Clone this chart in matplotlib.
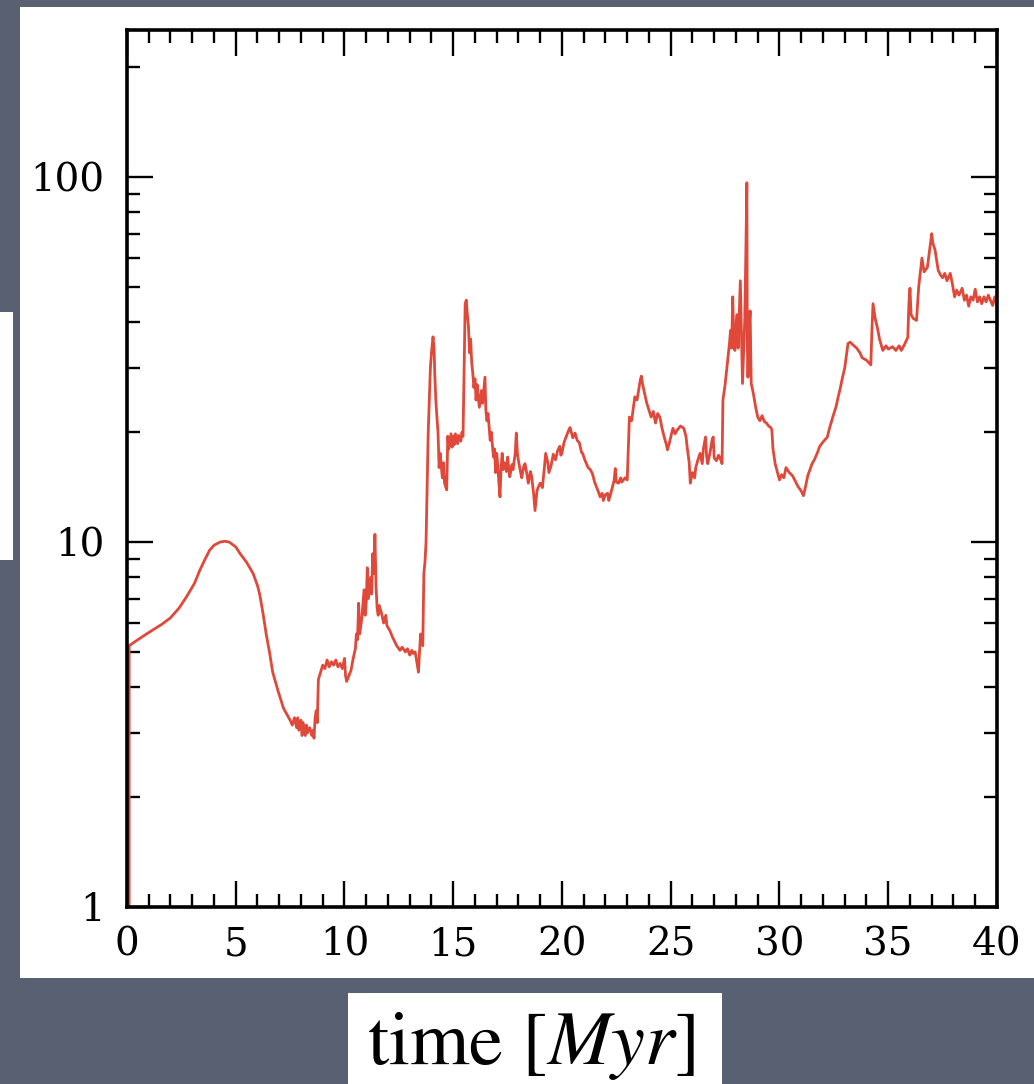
import numpy as np
import matplotlib
matplotlib.use("Agg")
import matplotlib.pyplot as plt
from matplotlib.patches import Rectangle
from matplotlib.ticker import LogLocator, NullFormatter, MultipleLocator

# values, piece by piece (time in Myr, log y)
t_start = [0.1, 0.1, 0.4, 0.8, 1.2, 1.6, 2.0, 2.4, 2.75, 3.1, 3.36, 3.6, 3.8,
           4.0, 4.28, 4.5, 4.7, 5.0, 5.2, 5.5, 5.8, 6.0, 6.1, 6.25, 6.4, 6.55,
           6.7, 6.95, 7.2]
v_start = [1.0, 5.2, 5.35, 5.55, 5.75, 5.95, 6.2, 6.6, 7.1, 7.7, 8.4, 9.0, 9.5,
           9.8, 10.0, 10.05, 10.0, 9.7, 9.3, 8.8, 8.2, 7.6, 7.2, 6.4, 5.6, 5.0,
           4.4, 3.9, 3.5]

t_dip = [7.5, 7.6, 7.7, 7.8, 7.85, 7.9, 8.0, 8.05, 8.1, 8.2, 8.25, 8.3, 8.4,
         8.5, 8.55, 8.6, 8.65, 8.7, 8.75, 8.8, 8.9, 9.0, 9.1, 9.2, 9.3, 9.4,
         9.5, 9.6, 9.7, 9.8, 9.9, 10.0, 10.05, 10.1, 10.2, 10.3]
v_dip = [3.25, 3.15, 3.3, 3.1, 3.3, 3.05, 3.25, 2.95, 3.2, 2.95, 3.15, 3.0,
         3.1, 2.95, 3.05, 2.9, 3.3, 3.45, 3.2, 4.2, 4.4, 4.6, 4.5, 4.75, 4.55,
         4.7, 4.6, 4.75, 4.55, 4.65, 4.5, 4.8, 4.3, 4.15, 4.3, 4.45]

t_bump = [10.4, 10.5, 10.55, 10.6, 10.65, 10.7, 10.8, 10.9, 10.95, 11.0,
          11.05, 11.1, 11.2, 11.25, 11.3, 11.35, 11.4, 11.45, 11.5, 11.55,
          11.6, 11.7, 11.8, 11.9, 11.95, 12.1, 12.2, 12.3, 12.4, 12.55,
          12.65, 12.8, 12.9, 13.0, 13.1, 13.15, 13.25, 13.3, 13.35, 13.4,
          13.45, 13.5, 13.55, 13.6, 13.65, 13.7, 13.75]
v_bump = [4.8, 5.1, 5.6, 5.4, 6.8, 5.6, 6.2, 7.4, 6.3, 6.8,
          8.5, 7.0, 8.0, 7.2, 9.3, 8.2, 10.5, 7.6, 6.6, 6.3,
          6.7, 6.4, 6.0, 6.3, 5.9, 5.7, 5.5, 5.35, 5.2, 5.05,
          5.15, 5.0, 5.1, 4.9, 5.05, 4.95, 5.0, 4.8, 4.6, 4.4,
          5.0, 5.6, 5.3, 5.2, 8.2, 8.8, 10.0]

t_jump = [13.85, 13.95, 14.0, 14.07, 14.12, 14.15, 14.2, 14.25, 14.3, 14.35,
          14.4, 14.45, 14.5, 14.55, 14.6, 14.7, 14.75, 14.8, 14.9, 14.95,
          15.0, 15.05, 15.1, 15.2, 15.25, 15.35, 15.4, 15.45, 15.5, 15.55,
          15.6, 15.65, 15.7, 15.75, 15.8, 15.85, 15.9, 15.95, 16.0, 16.05,
          16.1, 16.2, 16.3, 16.35, 16.46]
v_jump = [20, 30, 33, 36.5, 34, 29, 24.5, 22, 20, 16,
          17.5, 16.2, 15, 16.5, 14.5, 13.9, 19.5, 18.0, 19.8, 18.2,
          19.5, 18.5, 19.8, 18.6, 19.6, 18.9, 20, 19.5, 30, 45,
          46, 42, 39, 33, 36, 31, 29, 26.5, 28, 24.5,
          27, 23.4, 26, 24, 28.3]

t_mid = [16.5, 16.55, 16.6, 16.7, 16.75, 16.85, 16.9, 16.95, 17.0, 17.05,
         17.1, 17.15, 17.2, 17.25, 17.3, 17.35, 17.45, 17.5, 17.55, 17.6,
         17.7, 17.75, 17.85, 17.9, 17.95, 18.0, 18.1, 18.15, 18.25, 18.3,
         18.4, 18.45, 18.55, 18.6, 18.7, 18.76, 18.85, 18.9, 19.0, 19.1,
         19.2, 19.25, 19.35, 19.4, 19.5, 19.6, 19.7, 19.8, 19.9, 19.95,
         20.0, 20.1, 20.2, 20.3, 20.37, 20.45, 20.5, 20.6, 20.7, 20.8,
         20.9, 20.95, 21.05, 21.2, 21.3, 21.4, 21.5, 21.6, 21.7, 21.75,
         21.85, 21.9, 22.0, 22.1, 22.15, 22.2, 22.3, 22.4, 22.45, 22.5,
         22.6, 22.7, 22.75, 22.9, 23.0]
v_mid = [23, 21.5, 22.5, 19, 20, 17.1, 18, 15.5, 17.5, 16.2,
         14.5, 13.3, 16, 17.5, 15.8, 16.5, 15.6, 17.1, 16, 15.1,
         16.3, 15.8, 17.5, 19.9, 17.5, 16.7, 15.5, 15.0, 16.2, 16.4,
         15.2, 14.5, 15.6, 15.2, 13.5, 12.2, 13.8, 14.1, 14.5, 14.1,
         16.2, 17.5, 16.5, 15.5, 16.2, 17.4, 16.8, 17.8, 18.3, 17.3,
         17.6, 18.8, 19.5, 20.2, 20.6, 19.8, 19.3, 19.9, 19.0, 18.7,
         17.6, 17.5, 16.8, 16.0, 15.8, 15.4, 14.6, 14.1, 13.6, 13.3,
         13.6, 13.0, 13.5, 13.6, 13.0, 13.3, 14.0, 14.8, 15.9, 14.6,
         14.5, 15.0, 14.6, 15.0, 14.8]

t_peak = [23.05, 23.1, 23.2, 23.35, 23.45, 23.6, 23.65, 23.7, 23.8, 23.9,
          24.0, 24.1, 24.2, 24.3, 24.4, 24.5, 24.6, 24.7, 24.8, 24.85,
          24.95, 25.0, 25.1, 25.2, 25.3, 25.45, 25.6, 25.7, 25.75, 25.85,
          25.9, 26.0, 26.1, 26.15, 26.25, 26.35, 26.45, 26.5, 26.6, 26.65,
          26.7, 26.8, 26.9, 26.95, 27.0, 27.1, 27.2, 27.3, 27.36, 27.4,
          27.5, 27.6, 27.7, 27.75, 27.8, 27.85, 27.9, 27.95, 28.0, 28.05,
          28.1, 28.2, 28.25, 28.3, 28.35, 28.4, 28.45, 28.5, 28.52, 28.55,
          28.6, 28.65, 28.7]
v_peak = [18, 22.0, 21.5, 25, 24.5, 27.8, 28.5, 27.2, 25.5, 24,
          23, 22, 22.8, 21.2, 22.5, 22, 20.5, 19.4, 18.5, 17.9,
          18.8, 19.4, 20.5, 19.8, 20.3, 20.8, 20.5, 19.5, 18.3, 16.5,
          14.5, 15.5, 15.0, 16.0, 16.8, 17.5, 16.4, 18.0, 19.4, 17.2,
          16.4, 17.5, 19.0, 19.4, 17.0, 16.7, 17.3, 16.8, 16.4, 24.5,
          27, 30.8, 35, 38, 34, 47, 36, 33.5, 39, 42,
          34, 52, 38, 27.2, 33, 40, 60, 96.5, 35, 28.3,
          38, 43, 27.2]

t_valley = [28.8, 28.9, 29.0, 29.1, 29.2, 29.3, 29.4, 29.5, 29.6, 29.65,
            29.7, 29.8, 29.9, 30.0, 30.1, 30.2, 30.3, 30.45, 30.6, 30.7,
            30.85, 31.0, 31.1, 31.2, 31.3, 31.5, 31.6, 31.75, 31.85, 32.0,
            32.2, 32.3, 32.45, 32.6, 32.7, 32.8, 32.9, 33.0, 33.15, 33.25,
            33.4, 33.55, 33.7, 33.8, 34.0, 34.2]
v_valley = [25.5, 23.5, 22, 21.5, 22.2, 21.4, 21.2, 20.8, 20.6, 20.3,
            18, 16.4, 15.6, 14.8, 15.3, 15.0, 16.0, 15.5, 15.2, 14.8,
            14.2, 13.8, 13.4, 14.2, 15.2, 16.4, 16.8, 17.6, 18.3, 18.8,
            19.4, 20.5, 22, 23.5, 25, 26.5, 28.3, 30, 35, 35.3,
            34.6, 34.0, 33.0, 32, 31.5, 30.6]

t_end = [34.25, 34.3, 34.4, 34.5, 34.6, 34.75, 34.9, 35.0, 35.2, 35.35,
         35.5, 35.6, 35.75, 35.9, 35.95, 36.0, 36.05, 36.15, 36.3, 36.4,
         36.55, 36.65, 36.8, 36.9, 37.0, 37.05, 37.15, 37.25, 37.3, 37.4,
         37.5, 37.6, 37.7, 37.85, 37.95, 38.05, 38.15, 38.25, 38.4, 38.5,
         38.6, 38.7, 38.8, 38.9, 39.0, 39.1, 39.2, 39.3, 39.4, 39.5,
         39.6, 39.7, 39.8, 39.9, 40.0]
v_end = [38, 45, 41, 38.7, 36, 33.5, 34.5, 33.8, 34.3, 33.5,
         34.5, 33.5, 34.8, 36.4, 45, 49.6, 42, 41, 40.5, 50,
         60, 55, 56.6, 63, 70, 66, 63.2, 58, 55.5, 54,
         53, 54.5, 52, 54.5, 51, 47, 49, 47.5, 49.6, 46,
         47.5, 44.3, 47, 46, 49.3, 45.5, 47, 45, 47, 45.5,
         47.5, 46, 44.5, 47, 44.3]

time_myr = t_start + t_dip + t_bump + t_jump + t_mid + t_peak + t_valley + t_end
values = v_start + v_dip + v_bump + v_jump + v_mid + v_peak + v_valley + v_end

y_ticks = [1, 10, 100]
y_tick_labels = ["1", "10", "100"]
x_ticks = [0, 5, 10, 15, 20, 25, 30, 35, 40]

fig = plt.figure(figsize=(10.34, 10.84), dpi=100)
fig.patch.set_facecolor("#596072")

# white panels of the slide (behind the axes)
for (x0, y0, w, h) in [(20 / 1034, 0.0978, 1 - 20 / 1034, 0.8957),
                       (0, 0.483, 13 / 1034, 0.229),
                       (0.3366, 0, 0.3617, 0.084)]:
    fig.patches.append(Rectangle((x0, y0), w, h, transform=fig.transFigure,
                                 facecolor="white", edgecolor="none",
                                 zorder=-5))

ax = fig.add_axes([0.1228, 0.1633, 0.8414, 0.809])
ax.set_zorder(2)
ax.set_facecolor("white")
ax.plot(time_myr, values, color="#e0483a", lw=2.0)

ax.set_yscale("log")
ax.set_xlim(0, 40)
ax.set_ylim(1, 253)

ax.set_xticks(x_ticks)
ax.xaxis.set_minor_locator(MultipleLocator(1))
ax.set_yticks(y_ticks, labels=y_tick_labels)
ax.yaxis.set_minor_locator(LogLocator(base=10, subs=np.arange(2, 10)))
ax.yaxis.set_minor_formatter(NullFormatter())

for s in ax.spines.values():
    s.set_linewidth(2.6)

ax.tick_params(which="both", direction="in", top=True, right=True,
               width=1.7, colors="black")
ax.tick_params(which="major", length=19)
ax.tick_params(which="minor", length=9.5)
ax.tick_params(axis="x", which="major", pad=14)
ax.tick_params(axis="y", which="major", pad=16)
for lab in ax.get_xticklabels() + ax.get_yticklabels():
    lab.set_family("DejaVu Serif")
    lab.set_fontsize(28)

plt.rcParams["mathtext.fontset"] = "stix"
fig.text(0.5135, 0.035, r"time [$Myr$]", family="STIXGeneral",
         fontsize=55, ha="center", va="center", zorder=3)

fig.savefig("out.png", dpi=100, facecolor=fig.get_facecolor())
